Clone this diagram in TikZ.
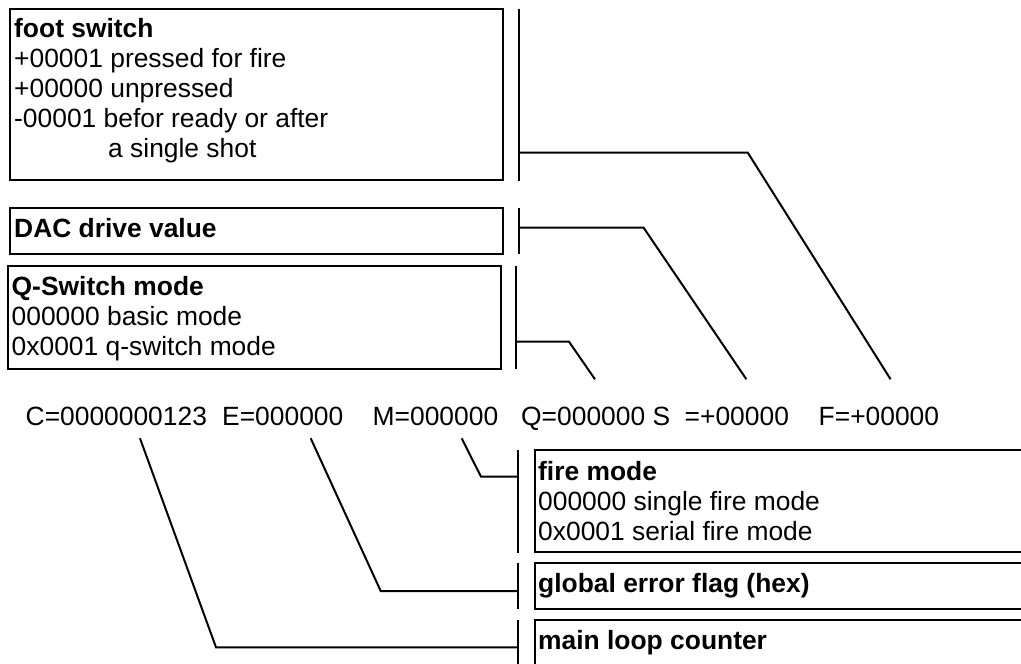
\documentclass[tikz,border=0pt]{standalone}
\usepackage{fontspec}
\setmainfont{Liberation Sans}
\begin{document}
\begin{tikzpicture}[x=1pt,y=-1pt,
  box/.style={draw, line width=2.1pt, anchor=north west, inner sep=0pt, outer sep=0pt},
  txt/.style={anchor=base west, inner sep=0pt, font=\fontsize{26.4}{30}\selectfont},
  ttl/.style={anchor=base west, inner sep=0pt, font=\fontsize{26.4}{30}\selectfont\bfseries},
  bar/.style={line width=2.1pt},
  conn/.style={line width=2pt, line join=miter}]
\useasboundingbox (0,0) rectangle (1021,664);
\fill[white] (0,0) rectangle (1021,664);
\clip (0,0) rectangle (1021,664);

% ---------- upper boxes ----------
\node[box, minimum width=493pt, minimum height=171pt] (foot) at (10.4,9) {};
\node[ttl] (foot1) at (14,37.7) {foot switch};
\node[txt] (foot2) at (14,67.7) {+00001 pressed for fire};
\node[txt] (foot3) at (14,97.7) {+00000 unpressed};
\node[txt] (foot4) at (14,127.7) {-00001 befor ready or after};
\node[txt] (foot5) at (108,157.7) {a single shot};

\node[box, minimum width=493pt, minimum height=46pt] (dac) at (10.4,208) {};
\node[ttl] (dac1) at (14,237) {DAC drive value};

\node[box, minimum width=493pt, minimum height=103pt] (qsw) at (7.9,266) {};
\node[ttl] (qsw1) at (11.5,295) {Q-Switch mode};
\node[txt] (qsw2) at (11.5,325) {000000 basic mode};
\node[txt] (qsw3) at (11.5,355) {0x0001 q-switch mode};

% ---------- value row ----------
\node[txt] (Cval) at (25.5,425) {C=0000000123};
\node[txt] (Eval) at (222,425) {E=000000};
\node[txt] (Mval) at (372.5,425) {M=000000};
\node[txt] (Qval) at (521,425) {Q=000000 S};
\node[txt] (Sval) at (684.5,425) {=+00000};
\node[txt] (Fval) at (818.5,425) {F=+00000};

% ---------- lower boxes ----------
\node[box, minimum width=500pt, minimum height=102pt] (fire) at (535,450) {};
\node[ttl] (fire1) at (538,480) {fire mode};
\node[txt] (fire2) at (538,510) {000000 single fire mode};
\node[txt] (fire3) at (538,540) {0x0001 serial fire mode};

\node[box, minimum width=500pt, minimum height=46pt] (gerr) at (535,563) {};
\node[ttl] (gerr1) at (538,592.5) {global error flag (hex)};

\node[box, minimum width=500pt, minimum height=80pt] (mloop) at (535,620) {};
\node[ttl] (mloop1) at (538,649) {main loop counter};

% ---------- bars ----------
\coordinate (fbT) at (519,8.5);   \coordinate (fbB) at (519,180.5);
\coordinate (dbT) at (519,208);   \coordinate (dbB) at (519,254);
\coordinate (qbT) at (516.4,266); \coordinate (qbB) at (516.4,369);
\coordinate (mbT) at (518.3,450); \coordinate (mbB) at (518.3,553);
\coordinate (ebT) at (518.3,563); \coordinate (ebB) at (518.3,609);
\coordinate (cbT) at (518.3,620); \coordinate (cbB) at (518.3,680);
\foreach \t/\b in {fbT/fbB,dbT/dbB,qbT/qbB,mbT/mbB,ebT/ebB,cbT/cbB}
  \draw[bar] (\t) -- (\b);

% ---------- connectors ----------
\coordinate (fK) at (747.8,152.7); \coordinate (fE) at (890.6,379.3);
\draw[conn] (fbT |- fK) -- (fK) -- (fE);
\coordinate (dK) at (643.6,227.7); \coordinate (dE) at (746.4,379.3);
\draw[conn] (dbT |- dK) -- (dK) -- (dE);
\coordinate (qK) at (569,341.7); \coordinate (qE) at (595,379.3);
\draw[conn] (qbT |- qK) -- (qK) -- (qE);

\coordinate (mS) at (461.7,438.3); \coordinate (mK) at (481,476.7);
\draw[conn] (mS) -- (mK) -- (mK -| mbT);
\coordinate (eS) at (310.7,438.3); \coordinate (eK) at (380.7,591);
\draw[conn] (eS) -- (eK) -- (eK -| ebT);
\coordinate (cS) at (140,438.3); \coordinate (cK) at (216,647.3);
\draw[conn] (cS) -- (cK) -- (cK -| cbT);
\end{tikzpicture}
\end{document}
